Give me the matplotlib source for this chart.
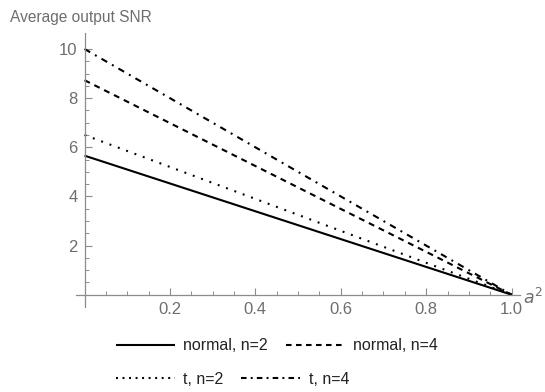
import matplotlib
matplotlib.use("Agg")
import matplotlib.pyplot as plt
from matplotlib.lines import Line2D

plt.rcParams['font.family'] = ['Liberation Sans', 'DejaVu Sans']
plt.rcParams['lines.scale_dashes'] = False

# a^2 from 0 to 1; average output SNR falls linearly to zero
a2 = [0.0, 1.0]
snr_normal_n2 = [5.66, 0.0]
snr_normal_n4 = [8.73, 0.0]
snr_t_n2 = [6.5, 0.0]
snr_t_n4 = [10.0, 0.0]

series_labels = ["normal, n=2", "normal, n=4", "t, n=2", "t, n=4"]
x_ticks = [0.2, 0.4, 0.6, 0.8, 1.0]
y_ticks = [2, 4, 6, 8, 10]

grey = '#8c8c8c'
label_grey = '#6e6e6e'

fig = plt.figure(figsize=(5.45, 3.92), dpi=100)
ax = fig.add_axes([0.1394, 0.2168, 0.815, 0.699])

plot_styles = [
    '-',
    (0, (4.3, 3.6)),
    (0, (1.4, 5.0)),
    (0, (4.7, 4.0, 1.4, 4.0)),
]
legend_styles = [
    '-',
    (0, (4.0, 3.2)),
    (0, (1.4, 3.3)),
    (0, (4.0, 3.0, 1.4, 3.0)),
]
series = [snr_normal_n2, snr_normal_n4, snr_t_n2, snr_t_n4]
for ys, ls, lab in zip(series, plot_styles, series_labels):
    ax.plot(a2, ys, color='black', lw=1.5, solid_capstyle='butt',
            dash_capstyle='butt', linestyle=ls, label=lab)

ax.set_xlim(-0.02, 1.02)
ax.set_ylim(-0.5, 10.65)

for s in ['top', 'right']:
    ax.spines[s].set_visible(False)
ax.spines['left'].set_position(('data', 0))
ax.spines['bottom'].set_position(('data', 0))
for s in ['left', 'bottom']:
    ax.spines[s].set_color(grey)
    ax.spines[s].set_linewidth(0.9)

ax.set_xticks(x_ticks)
ax.set_xticklabels([f"{v:.1f}" for v in x_ticks])
ax.set_yticks(y_ticks)
ax.set_xticks([i * 0.05 for i in range(1, 20) if i % 4 != 0], minor=True)
ax.set_yticks([i * 0.5 for i in range(1, 21) if i % 4 != 0], minor=True)
ax.tick_params(which='major', direction='in', length=5, width=0.8,
               color=grey, labelcolor=label_grey, labelsize=12, pad=5)
ax.tick_params(which='minor', direction='in', length=3, width=0.7, color=grey)

fig.text(0.018, 0.955, "Average output SNR", color=label_grey, fontsize=11.2,
         ha='left', va='center')
# horizontal axis label, sitting just right of the axis end
fig.text(0.996, 0.243, "$a^2$", color=label_grey, fontsize=12.5,
         ha='right', va='center')

handles = [Line2D([], [], color='black', lw=1.5, linestyle=ls,
                  solid_capstyle='butt', dash_capstyle='butt')
           for ls in legend_styles]

leg_kw = dict(ncol=2, frameon=False, fontsize=11.5, handlelength=3.7,
              handletextpad=0.55, columnspacing=1.1, borderpad=0,
              borderaxespad=0, loc='center left')
leg1 = fig.legend(handles=handles[:2], labels=series_labels[:2],
                  bbox_to_anchor=(0.212, 0.118), **leg_kw)
leg2 = fig.legend(handles=handles[2:], labels=series_labels[2:],
                  bbox_to_anchor=(0.212, 0.033), **leg_kw)
for lg in (leg1, leg2):
    for t in lg.get_texts():
        t.set_color('#222222')

fig.savefig("out.png", dpi=100)
